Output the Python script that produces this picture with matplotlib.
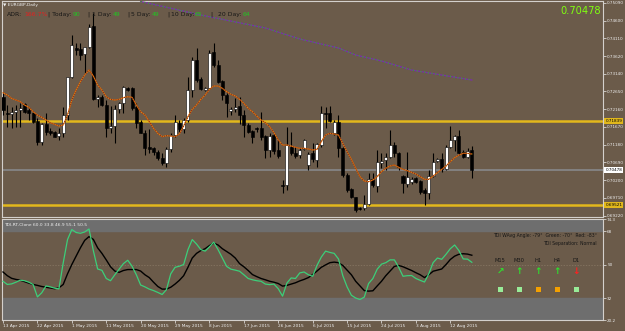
import matplotlib
matplotlib.use('Agg')
import matplotlib.pyplot as plt
from matplotlib.patches import Rectangle
import numpy as np

# EURGBP daily candles (Sunday bars included, as on the broker chart)
opens = [
    0.72502, 0.72060, 0.72024, 0.72079, 0.72134, 0.72300, 0.72134, 0.72042, 0.71840, 0.71260,
    0.71748, 0.71554, 0.71518, 0.71416, 0.71490, 0.71996, 0.73036, 0.73836, 0.73808, 0.73680,
    0.73864, 0.74452, 0.72447, 0.72502, 0.72272, 0.71646, 0.71692, 0.72152, 0.72318, 0.72732,
    0.72732, 0.72208, 0.71794, 0.71508, 0.71104, 0.71076, 0.70984, 0.70800, 0.70680, 0.71048,
    0.71444, 0.71766, 0.71600, 0.71858, 0.72686, 0.73514, 0.72980, 0.72686, 0.72732, 0.73744,
    0.73376, 0.72934, 0.72548, 0.72097, 0.72152, 0.72244, 0.71996, 0.71720, 0.71564, 0.71628,
    0.71628, 0.71416, 0.71030, 0.71444, 0.71030, 0.70055, 0.70064, 0.71122, 0.70956, 0.70892,
    0.71048, 0.70616, 0.70938, 0.70754, 0.71168, 0.72042, 0.72042, 0.71490, 0.71812, 0.71076,
    0.70340, 0.69944, 0.69724, 0.69430, 0.69420, 0.69540, 0.70220, 0.70036, 0.70680, 0.70754,
    0.70846, 0.71168, 0.70938, 0.70312, 0.70092, 0.70138, 0.70257, 0.70165, 0.69926, 0.69834,
    0.70322, 0.70726, 0.70772, 0.70496, 0.71104, 0.71306, 0.71416, 0.70984, 0.70846, 0.71030,
]
highs = [
    0.72594, 0.72272, 0.72226, 0.72272, 0.72318, 0.72336, 0.72226, 0.72088, 0.71904, 0.71784,
    0.72042, 0.71628, 0.71554, 0.71628, 0.72226, 0.73054, 0.74204, 0.73974, 0.73992, 0.73882,
    0.74508, 0.74802, 0.72548, 0.72548, 0.72410, 0.72244, 0.72272, 0.72364, 0.72796, 0.72778,
    0.72778, 0.72318, 0.71858, 0.71582, 0.71600, 0.71122, 0.71030, 0.70938, 0.71122, 0.71490,
    0.71996, 0.71858, 0.71904, 0.73054, 0.73606, 0.73836, 0.73054, 0.72760, 0.73790, 0.73974,
    0.73514, 0.72962, 0.72594, 0.72226, 0.72456, 0.72502, 0.72134, 0.71766, 0.71582, 0.71674,
    0.72088, 0.71444, 0.71490, 0.71490, 0.71306, 0.70202, 0.71674, 0.71536, 0.71122, 0.71076,
    0.71324, 0.70984, 0.71214, 0.71214, 0.72244, 0.72226, 0.72244, 0.71858, 0.71996, 0.71122,
    0.70386, 0.69972, 0.69742, 0.69448, 0.69788, 0.70404, 0.70386, 0.71030, 0.70938, 0.70938,
    0.71582, 0.71260, 0.70984, 0.70340, 0.70984, 0.70276, 0.70294, 0.70202, 0.69972, 0.70478,
    0.70938, 0.70800, 0.70938, 0.71168, 0.71692, 0.71444, 0.71582, 0.71030, 0.71076, 0.71140,
]
lows = [
    0.71996, 0.71674, 0.71628, 0.71674, 0.71674, 0.72042, 0.71858, 0.71766, 0.71168, 0.71168,
    0.71444, 0.71444, 0.71380, 0.71306, 0.71398, 0.71858, 0.73008, 0.73652, 0.73514, 0.73146,
    0.73836, 0.72410, 0.72226, 0.72244, 0.71398, 0.71490, 0.71214, 0.72042, 0.72042, 0.72668,
    0.72134, 0.71628, 0.71490, 0.70892, 0.70938, 0.70892, 0.70754, 0.70616, 0.70570, 0.70984,
    0.71398, 0.71536, 0.71490, 0.71812, 0.72502, 0.72916, 0.72686, 0.72668, 0.72704, 0.73330,
    0.72870, 0.72410, 0.71950, 0.71996, 0.72088, 0.71748, 0.71398, 0.71490, 0.71232, 0.71536,
    0.71306, 0.70800, 0.70846, 0.70920, 0.70800, 0.69834, 0.69926, 0.70892, 0.70800, 0.70800,
    0.71030, 0.70478, 0.70708, 0.70570, 0.71122, 0.71628, 0.71812, 0.71444, 0.70846, 0.70294,
    0.69880, 0.69696, 0.69328, 0.69374, 0.69374, 0.69512, 0.70018, 0.69880, 0.70524, 0.70478,
    0.70800, 0.70846, 0.70478, 0.69834, 0.70018, 0.70092, 0.70128, 0.69806, 0.69512, 0.69678,
    0.70294, 0.70708, 0.70432, 0.70478, 0.71076, 0.71012, 0.70892, 0.70818, 0.70800, 0.70248,
]
closes = [
    0.72134, 0.72024, 0.72079, 0.72134, 0.72180, 0.72088, 0.72042, 0.71812, 0.71260, 0.71748,
    0.71536, 0.71508, 0.71398, 0.71490, 0.71996, 0.73036, 0.73928, 0.73790, 0.73652, 0.73864,
    0.74434, 0.72428, 0.72502, 0.72272, 0.71628, 0.71692, 0.72152, 0.72318, 0.72760, 0.72686,
    0.72180, 0.71784, 0.71508, 0.71076, 0.71067, 0.70984, 0.70800, 0.70662, 0.71048, 0.71444,
    0.71812, 0.71600, 0.71858, 0.72686, 0.73514, 0.72962, 0.72704, 0.72732, 0.73716, 0.73376,
    0.72916, 0.72548, 0.72336, 0.72152, 0.72226, 0.71996, 0.71720, 0.71536, 0.71398, 0.71600,
    0.71398, 0.71030, 0.71416, 0.71012, 0.70864, 0.70027, 0.71168, 0.70938, 0.70864, 0.71030,
    0.71306, 0.70920, 0.70772, 0.71186, 0.72042, 0.72024, 0.71840, 0.71812, 0.71076, 0.70340,
    0.69926, 0.69742, 0.69374, 0.69411, 0.69540, 0.70220, 0.70064, 0.70708, 0.70736, 0.70846,
    0.71168, 0.70938, 0.70570, 0.70110, 0.70276, 0.70230, 0.70156, 0.69880, 0.69834, 0.70312,
    0.70708, 0.70782, 0.70496, 0.71122, 0.71306, 0.71416, 0.70956, 0.70846, 0.71012, 0.70478,
]

# dotted orange/red moving average
ma_fast = [
    0.72612, 0.72548, 0.72456, 0.72410, 0.72364, 0.72272, 0.72208, 0.72088, 0.71996, 0.71932,
    0.71858, 0.71784, 0.71738, 0.71692, 0.71720, 0.71996, 0.72410, 0.72686, 0.72916, 0.73100,
    0.73238, 0.73072, 0.72824, 0.72686, 0.72502, 0.72428, 0.72410, 0.72428, 0.72474, 0.72502,
    0.72484, 0.72272, 0.72088, 0.71996, 0.71812, 0.71628, 0.71490, 0.71398, 0.71426, 0.71416,
    0.71398, 0.71472, 0.71692, 0.71950, 0.72152, 0.72272, 0.72428, 0.72548, 0.72704, 0.72796,
    0.72796, 0.72732, 0.72640, 0.72566, 0.72520, 0.72428, 0.72318, 0.72180, 0.72088, 0.71968,
    0.71858, 0.71784, 0.71674, 0.71508, 0.71306, 0.71168, 0.71168, 0.71140, 0.71104, 0.71076,
    0.71076, 0.71058, 0.71030, 0.71048, 0.71260, 0.71444, 0.71490, 0.71472, 0.71444, 0.71214,
    0.70984, 0.70772, 0.70524, 0.70294, 0.70174, 0.70156, 0.70202, 0.70294, 0.70432, 0.70524,
    0.70588, 0.70616, 0.70552, 0.70496, 0.70460, 0.70414, 0.70368, 0.70294, 0.70220, 0.70220,
    0.70312, 0.70404, 0.70496, 0.70588, 0.70708, 0.70818, 0.70892, 0.70938, 0.70938, 0.70920,
]

# long purple/green moving average (only part inside the window)
ma_slow_bar = [32, 46, 61, 69, 78, 82, 88, 95, 102, 109]
ma_slow = [0.75130, 0.74756, 0.74398, 0.74094, 0.73846, 0.73652, 0.73487, 0.73238, 0.73100, 0.72962]

# TDI sub window
tdi_green = [
    41.0, 39.3, 39.6, 40.5, 41.6, 41.3, 40.5, 39.3, 32.6, 34.8,
    38.5, 38.0, 37.3, 36.9, 50.9, 63.4, 68.8, 67.2, 66.8, 67.5,
    69.1, 57.5, 47.6, 46.9, 42.5, 41.3, 44.5, 47.5, 50.5, 52.3,
    49.1, 44.5, 39.0, 38.0, 36.8, 36.0, 35.0, 33.9, 36.5, 45.0,
    48.5, 49.1, 50.0, 58.0, 63.4, 61.0, 58.0, 57.2, 59.5, 62.0,
    58.0, 53.5, 49.0, 47.5, 47.0, 46.4, 44.5, 42.5, 41.8, 41.3,
    41.0, 39.5, 39.2, 39.5, 37.0, 33.0, 40.0, 42.8, 42.5, 45.5,
    46.0, 44.5, 43.7, 49.5, 54.0, 57.2, 56.5, 56.0, 53.0, 44.0,
    38.0, 33.5, 32.0, 31.2, 32.5, 39.8, 42.5, 47.5, 50.2, 51.0,
    52.5, 52.5, 48.5, 43.7, 44.0, 44.1, 42.5, 41.5, 40.6, 45.0,
    51.0, 53.5, 52.8, 55.5, 58.5, 60.5, 57.5, 53.0, 52.9, 51.2,
]
tdi_signal = [
    46.0, 44.0, 42.6, 42.0, 41.6, 40.8, 40.0, 39.3, 38.8, 38.2,
    37.8, 37.4, 37.0, 37.5, 39.3, 45.0, 50.0, 54.5, 59.0, 63.0,
    65.0, 63.5, 59.0, 56.0, 52.5, 48.8, 46.5, 45.8, 46.8, 47.3,
    47.3, 47.3, 46.5, 44.5, 43.0, 40.5, 38.2, 36.8, 36.8, 37.8,
    39.5, 41.5, 44.0, 48.5, 53.5, 56.0, 57.5, 58.5, 60.2, 61.5,
    60.5, 58.5, 57.0, 55.5, 53.5, 50.5, 48.8, 46.8, 44.6, 43.5,
    42.5, 41.8, 41.0, 40.5, 39.8, 38.4, 38.8, 39.5, 40.2, 41.2,
    42.0, 43.0, 44.6, 46.5, 48.5, 49.8, 51.0, 51.3, 51.0, 49.5,
    47.0, 44.5, 41.0, 38.5, 36.0, 35.7, 35.9, 38.5, 41.0, 44.0,
    46.5, 49.0, 49.5, 48.8, 47.8, 46.8, 45.6, 44.5, 43.0, 44.5,
    46.4, 47.0, 47.6, 50.0, 52.7, 54.5, 55.5, 55.8, 55.6, 55.0,
]

date_labels = ['13 Apr 2015', '22 Apr 2015', '1 May 2015', '11 May 2015', '20 May 2015',
               '29 May 2015', '8 Jun 2015', '17 Jun 2015', '26 Jun 2015', '6 Jul 2015',
               '15 Jul 2015', '24 Jul 2015', '3 Aug 2015', '12 Aug 2015']
date_bars = [0, 8, 16, 24, 32, 40, 48, 56, 64, 72, 80, 88, 96, 104]

price_ticks = [0.75090, 0.74600, 0.74110, 0.73620, 0.73140, 0.72650, 0.72160,
               0.71670, 0.71180, 0.70690, 0.70200, 0.69710, 0.69220]
level_high = 0.71839
level_low = 0.69521
last_price = 0.70478
tdi_ticks = [74.3, 68, 50, 32, 20.2]

adr_parts = [('ADR:', 'k'), ('166.7%', 'r'), ('| Today:', 'k'), ('90', 'g'),
             ('|', 'k'), ('1 Day:', 'k'), ('49', 'g'), ('|', 'k'), ('5 Day:', 'k'), ('49', 'g'),
             ('|', 'k'), ('10 Day:', 'k'), ('65', 'g'), ('|', 'k'), ('20 Day:', 'k'), ('64', 'g')]
adr_x = [7, 24, 48, 73, 87, 92, 113, 127, 131, 152, 167, 171, 195, 210, 218, 243]

timeframes = ['M15', 'M30', 'H1', 'H4', 'D1']
tf_arrows = ['↗', '↑', '↑', '↑', '↓']
tf_arrow_col = ['#2ee02e', '#2ee02e', '#2ee02e', '#2ee02e', '#ff2020']
tf_box_col = ['#98ec98', '#98ec98', '#f4a000', '#f4a000', '#98ec98']

# ---------------------------------------------------------------
W, H = 625, 331
bg = '#6b5b4a'
band = '#6e6e6e'
light = '#eeeeee'
dark = '#161616'
frame = '#d4d0cc'

fig = plt.figure(figsize=(W / 100, H / 100), dpi=100, facecolor=bg)


def px_axes(x0, y0, x1, y1):
    return fig.add_axes([x0 / W, 1 - y1 / H, (x1 - x0) / W, (y1 - y0) / H])


def px_text(x, y, s, **kw):
    return fig.text(x / W, 1 - y / H, s, **kw)


ax = px_axes(2, 1, 603, 217)
ax2 = px_axes(2, 219.3, 603, 320)

xlim = (-0.233, 139.5)
for a in (ax, ax2):
    a.set_facecolor(bg)
    a.set_xlim(*xlim)
    for side in ('top', 'bottom', 'left', 'right'):
        a.spines[side].set_color(frame)
        a.spines[side].set_linewidth(0.8)

# main window
o = np.array(opens)
h = np.array(highs)
l = np.array(lows)
c = np.array(closes)
idx = np.arange(len(c))
up = c >= o

ax.set_ylim(0.69181, 0.75143)
ax.axhline(level_high, color='#e2b81c', lw=1.8, zorder=2)
ax.axhline(level_low, color='#e2b81c', lw=1.8, zorder=2)
ax.axhline(last_price, color='#858585', lw=1.3, zorder=2)

ax.vlines(idx, l, h, color='black', lw=0.8, zorder=3)
body = np.maximum(np.abs(c - o), 0.00006)
ax.bar(idx[up], body[up], bottom=o[up], width=0.7, color='white',
       edgecolor='black', linewidth=0.4, zorder=4)
ax.bar(idx[~up], body[~up], bottom=c[~up], width=0.7, color='black',
       edgecolor='black', linewidth=0.4, zorder=4)

ax.plot(idx, ma_fast, color='#e08a10', lw=0.8, zorder=5)
ax.plot(idx, ma_fast, color='#9a2010', lw=0.8, dashes=(1, 1), zorder=5)
ax.plot(ma_slow_bar, ma_slow, color='#7a2fa8', lw=0.9, zorder=5)
ax.plot(ma_slow_bar, ma_slow, color='#3c9c3c', lw=0.9, dashes=(1, 2), zorder=5)

ax.set_xticks([])
ax.yaxis.tick_right()
ax.set_yticks(price_ticks)
ax.set_yticklabels(['%.5f' % p for p in price_ticks])
ax.tick_params(axis='y', colors=light, labelsize=3.0, length=2, width=0.5, pad=1)

ytr = ax.get_yaxis_transform()
for val, fc in ((level_high, '#e2b81c'), (last_price, '#ffffff'), (level_low, '#e2b81c')):
    ax.text(1.004, val, '%.5f' % val, transform=ytr, fontsize=3.0, color='black',
            va='center', ha='left', zorder=10, clip_on=False,
            bbox=dict(boxstyle='square,pad=0.25', fc=fc, ec='none'))

# TDI window
ax2.set_ylim(20.2, 74.3)
ax2.axhspan(68, 74.3, color=band, zorder=1)
ax2.axhspan(20.2, 32, color=band, zorder=1)
ax2.axhline(50, color='#8a7a66', lw=0.5, ls=(0, (2, 2)), zorder=2)
ax2.plot(idx, tdi_green, color='#3ccf7a', lw=0.9, zorder=4)
ax2.plot(idx, tdi_signal, color='black', lw=1.0, zorder=3)

ax2.yaxis.tick_right()
ax2.set_yticks(tdi_ticks)
ax2.set_yticklabels(['%g' % t for t in tdi_ticks])
ax2.tick_params(axis='y', colors=light, labelsize=3.0, length=2, width=0.5, pad=1)
ax2.set_xticks(date_bars)
ax2.set_xticklabels(date_labels)
ax2.tick_params(axis='x', colors=light, labelsize=3.1, length=2, width=0.5, pad=1)
for t in ax2.get_xticklabels():
    t.set_ha('left')

# overlay texts
px_text(3, 5, '▼ EURGBP,Daily', fontsize=3.2, color=light, va='center')
pal = {'k': dark, 'r': '#e42020', 'g': '#22c422'}
for (s, col), x in zip(adr_parts, adr_x):
    px_text(x, 14.5, s, fontsize=4.4, color=pal[col], va='center', ha='left')
px_text(601, 11, '%.5f' % last_price, fontsize=7.1, color='#80ff10', va='center', ha='right')

px_text(4, 224.5, 'TDI-RT-Clone 60.0 33.8 46.9 55.1 50.5', fontsize=3.2, color=light,
        va='center', ha='left')
px_text(597, 235, 'TDI WAvg Angle: -79°  Green: -70°  Red: -83°', fontsize=3.3,
        color=dark, va='center', ha='right')
px_text(597, 244, 'TDI Separation: Normal', fontsize=3.3, color=dark, va='center', ha='right')

tf_x = [500, 519, 538, 557, 576]
for x, name, arr, acol, bcol in zip(tf_x, timeframes, tf_arrows, tf_arrow_col, tf_box_col):
    px_text(x, 261, name, fontsize=3.7, color=dark, va='center', ha='center')
    px_text(x, 272, arr, fontsize=6.5, color=acol, va='center', ha='center', fontweight='bold')
    fig.add_artist(Rectangle(((x - 2.5) / W, 1 - 291.5 / H), 5 / W, 5 / H,
                             transform=fig.transFigure, fc=bcol, ec='none'))

fig.savefig('out.png', dpi=100, facecolor=bg)
